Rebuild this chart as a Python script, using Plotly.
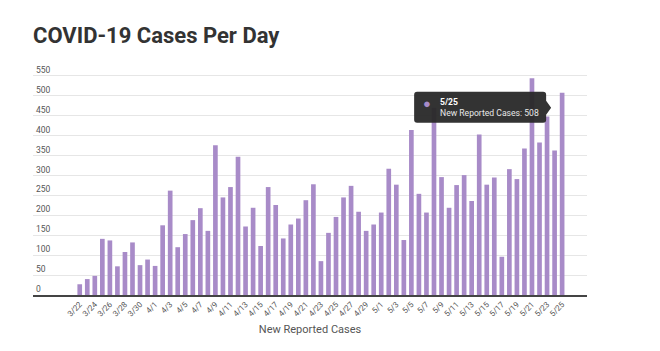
import plotly.graph_objects as go

dates = (["3/%d" % d for d in range(22, 32)] +
         ["4/%d" % d for d in range(1, 31)] +
         ["5/%d" % d for d in range(1, 26)])

cases = [27, 40, 48, 141, 137, 72, 108, 132, 75, 89,
         73, 175, 262, 120, 153, 188, 218, 161, 376, 245,
         271, 347, 172, 219, 123, 271, 226, 142, 177, 192,
         238, 278, 85, 156, 196, 245, 274, 209, 161, 177,
         207, 317, 277, 138, 414, 254, 207, 470, 296, 219,
         276, 301, 236, 403, 277, 295, 96, 316, 291, 368,
         544, 383, 448, 363, 508]

tick_labels = dates[::2]
y_ticks = list(range(0, 551, 50))
series_name = "New Reported Cases"
bar_color = "#a88bc8"
hover_idx = len(dates) - 1

fig = go.Figure()
fig.add_trace(go.Bar(x=dates, y=cases, marker_color=bar_color, name=series_name,
                     marker_line_width=0))

fig.update_layout(
    width=660, height=351,
    margin=dict(l=33, r=73, t=60, b=56),
    paper_bgcolor="white", plot_bgcolor="white",
    bargap=0.38,
    showlegend=False,
    font=dict(family="Roboto", color="#666"),
    title=dict(text="<b>COVID-19 Cases Per Day</b>", x=33/660, xanchor="left", xref="container",
               y=1-35/351, yanchor="middle", yref="container",
               font=dict(family="Roboto", size=22, color="#333")),
)
fig.update_xaxes(type="category", range=[-6.2, 67.3], tickmode="array",
                 tickvals=tick_labels, ticktext=tick_labels, tickangle=-45,
                 tickfont=dict(size=8, color="#555"), showgrid=False,
                 showline=True, linecolor="#444", linewidth=1.5, ticks="",
                 title=dict(text=series_name, font=dict(size=11, color="#555"), standoff=8))
fig.update_yaxes(range=[0, 590], tickmode="array", tickvals=y_ticks, showgrid=True,
                 gridcolor="#e6e6e6", gridwidth=1, zeroline=False,
                 ticklabelposition="inside top",
                 tickfont=dict(size=8.5, color="#555"), showline=False, ticks="")

# tooltip for the last point
tx = dates[hover_idx]
ty = cases[hover_idx]
path = ("M -145,1 L -19,1 Q -16,1 -16,-2 L -16,-8 L -11,-15 L -16,-22 "
        "L -16,-27 Q -16,-30 -19,-30 L -145,-30 Q -148,-30 -148,-27 L -148,-2 Q -148,1 -145,1 Z")
fig.add_shape(type="path", path=path, xsizemode="pixel", ysizemode="pixel",
              xanchor=tx, yanchor=ty, xref="x", yref="y",
              fillcolor="rgba(40,40,40,0.95)", line=dict(width=0), layer="above")
fig.add_annotation(x=tx, y=ty, xref="x", yref="y", showarrow=False,
                   text="●", font=dict(size=13, color=bar_color),
                   xanchor="center", yanchor="middle", xshift=-134.7, yshift=-10.9)
fig.add_annotation(x=tx, y=ty, xref="x", yref="y", showarrow=False,
                   text="<b>%s</b><br><span style='color:#e8e8e8'>%s: %d</span>" % (tx, series_name, ty),
                   font=dict(size=8.6, color="white", family="Roboto"), align="left",
                   xanchor="left", yanchor="middle", xshift=-124, yshift=-14.7)

fig.write_html("out.html")
